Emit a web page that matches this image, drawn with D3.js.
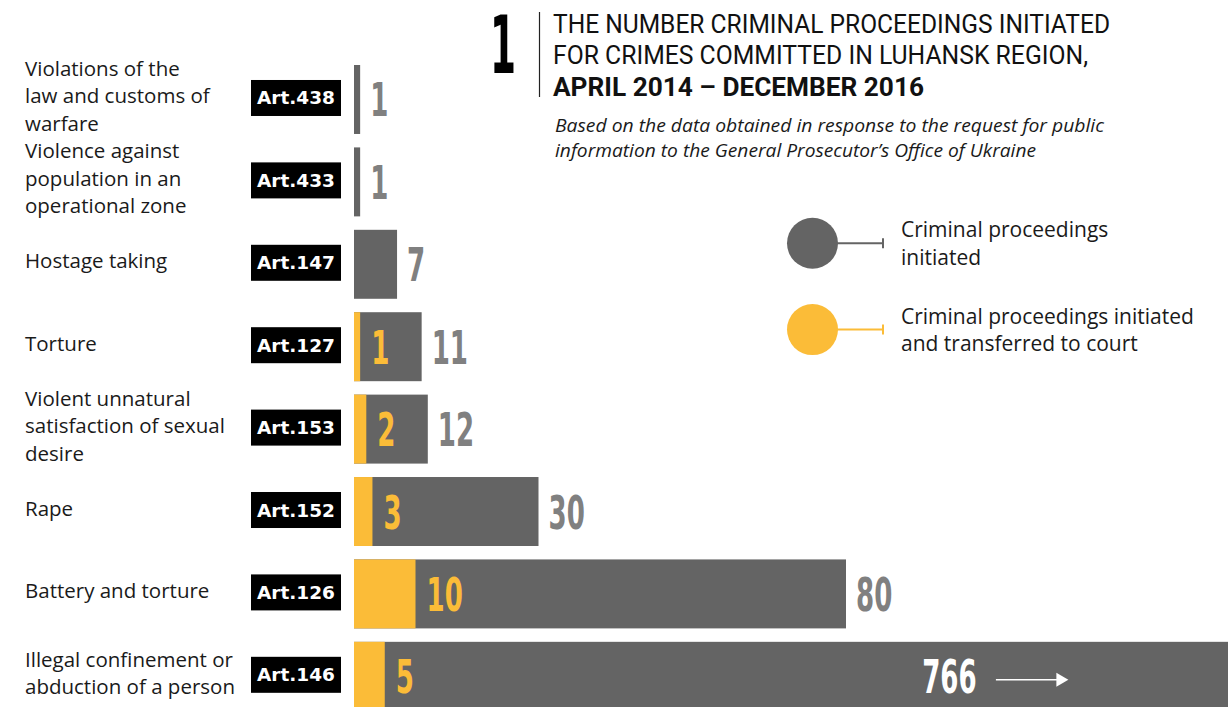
<!DOCTYPE html>
<html>
<head>
<meta charset="utf-8">
<script src="https://cdn.jsdelivr.net/npm/d3@7"></script>
<style>
  html, body { margin: 0; padding: 0; background: #ffffff; }
  svg { display: block; }
</style>
</head>
<body>
<svg id="chart" width="1228" height="707"></svg>
<script>
// ---------- DATA ----------
const articles = ["Art.438", "Art.433", "Art.147", "Art.127", "Art.153", "Art.152", "Art.126", "Art.146"];
const categoryLines = [
  ["Violations of the", "law and customs of", "warfare"],
  ["Violence against", "population in an", "operational zone"],
  ["Hostage taking"],
  ["Torture"],
  ["Violent unnatural", "satisfaction of sexual", "desire"],
  ["Rape"],
  ["Battery and torture"],
  ["Illegal confinement or", "abduction of a person"]
];
const initiated = [1, 1, 7, 11, 12, 30, 80, 766];
const transferred = [null, null, null, 1, 2, 3, 10, 5];
const titleLines = ["THE NUMBER CRIMINAL PROCEEDINGS INITIATED", "FOR CRIMES COMMITTED IN LUHANSK REGION,", "APRIL 2014 – DECEMBER 2016"];
const subtitleLines = ["Based on the data obtained in response to the request for public", "information to the General Prosecutor’s Office of Ukraine"];
const legendItems = [
  { key: "initiated", lines: ["Criminal proceedings", "initiated"] },
  { key: "transferred", lines: ["Criminal proceedings initiated", "and transferred to court"] }
];
const chartNumber = "1";

// ---------- STYLE ----------
const GRAY = "#646464";
const YELLOW = "#FBBC38";
const LABEL_GRAY = "#808080";
const TEXT = "#1a1a1a";
const NUM_FONT = "'DejaVu Sans Condensed', 'Liberation Sans Narrow', sans-serif";
const NUM_SX = 0.63;
const colorOf = { initiated: GRAY, transferred: YELLOW };

const svg = d3.select("#chart");
const W = 1228;

// ---------- SCALES ----------
const y = d3.scaleBand()
  .domain(articles)
  .range([65, 710.8])
  .paddingInner(0.163)
  .paddingOuter(0);

const x = d3.scaleLinear()
  .domain([0, 150])
  .range([354, 354 + 150 * 6.15])
  .clamp(true);

const rows = articles.map((a, i) => ({
  art: a, lines: categoryLines[i], total: initiated[i], part: transferred[i], i
}));

// ---------- BARS ----------
const g = svg.append("g");

g.selectAll("rect.total").data(rows).join("rect")
  .attr("class", "total")
  .attr("x", x(0))
  .attr("y", d => y(d.art))
  .attr("width", d => x(d.total) - x(0))
  .attr("height", y.bandwidth())
  .attr("fill", GRAY);

g.selectAll("rect.part").data(rows.filter(d => d.part != null)).join("rect")
  .attr("class", "part")
  .attr("x", x(0))
  .attr("y", d => y(d.art))
  .attr("width", d => x(d.part) - x(0))
  .attr("height", y.bandwidth())
  .attr("fill", YELLOW);

const cy = d => y(d.art) + y.bandwidth() / 2;

function numText(sel, fill) {
  sel.attr("font-family", NUM_FONT)
    .attr("font-weight", "bold")
    .attr("font-size", 46)
    .attr("fill", fill);
}

const truncated = d => x(d.total) >= x.range()[1];
g.selectAll("text.total").data(rows.filter(d => !truncated(d))).join("text")
  .attr("class", "total")
  .attr("transform", d => `translate(${x(d.total) + 10},${cy(d) + 17}) scale(${NUM_SX},1)`)
  .call(numText, LABEL_GRAY)
  .text(d => d.total);

const truncRows = rows.filter(truncated);
const tg = g.selectAll("g.trunc").data(truncRows).join("g").attr("class", "trunc");
tg.append("text")
  .attr("transform", d => `translate(${W * 0.751},${cy(d) + 17}) scale(${NUM_SX},1)`)
  .call(numText, "#ffffff")
  .text(d => d.total);
tg.append("line")
  .attr("x1", W * 0.811).attr("x2", W * 0.862)
  .attr("y1", d => cy(d) + 3.5).attr("y2", d => cy(d) + 3.5)
  .attr("stroke", "#ffffff").attr("stroke-width", 1.6);
tg.append("path")
  .attr("d", d => {
    const tx = W * 0.87, ty = cy(d) + 3.5;
    return `M${tx},${ty} L${tx - 12},${ty - 7} L${tx - 12},${ty + 7} Z`;
  })
  .attr("fill", "#ffffff");

g.selectAll("text.part").data(rows.filter(d => d.part != null)).join("text")
  .attr("class", "part")
  .attr("transform", d => `translate(${x(d.part) + 11},${cy(d) + 17}) scale(${NUM_SX},1)`)
  .call(numText, YELLOW)
  .text(d => d.part);

// ---------- ARTICLE BOXES ----------
const boxW = 90, boxH = 36, boxX = 251;
const ag = svg.append("g");
ag.selectAll("rect").data(rows).join("rect")
  .attr("x", boxX)
  .attr("y", d => cy(d) - boxH / 2 - 1.5)
  .attr("width", boxW)
  .attr("height", boxH)
  .attr("fill", "#000000");
ag.selectAll("text").data(rows).join("text")
  .attr("x", boxX + boxW / 2)
  .attr("y", d => cy(d) + 5)
  .attr("text-anchor", "middle")
  .attr("font-family", "'DejaVu Sans', sans-serif")
  .attr("font-weight", "bold")
  .attr("font-size", 18.5)
  .attr("fill", "#ffffff")
  .text(d => d.art);

// ---------- CATEGORY LABELS ----------
const lh = 27.5;
const cg = svg.append("g");
cg.selectAll("text").data(rows).join("text")
  .attr("font-family", "'Open Sans', sans-serif")
  .attr("font-size", 20.5)
  .attr("fill", TEXT)
  .each(function (d) {
    const n = d.lines.length;
    d3.select(this).selectAll("tspan").data(d.lines).join("tspan")
      .attr("x", 25)
      .attr("y", (l, k) => cy(d) + (k - (n - 1) / 2) * lh + 4)
      .text(l => l);
  });

// ---------- TITLE ----------
const hg = svg.append("g");
hg.append("text")
  .attr("transform", "translate(503,73) scale(0.52,1)")
  .attr("text-anchor", "middle")
  .attr("font-family", NUM_FONT)
  .attr("font-weight", "bold")
  .attr("font-size", 80)
  .attr("fill", "#000000")
  .text(chartNumber);
hg.append("line")
  .attr("x1", 539.5).attr("x2", 539.5)
  .attr("y1", 12).attr("y2", 97)
  .attr("stroke", "#222").attr("stroke-width", 1.2);

const titleWidths = [557, 535, 371];
const titleBase = [32.7, 64.3, 95.7];
hg.selectAll("text.title").data(titleLines).join("text")
  .attr("class", "title")
  .attr("x", 553)
  .attr("y", (t, i) => titleBase[i])
  .attr("font-family", "Roboto, sans-serif")
  .attr("font-size", 25.5)
  .attr("font-weight", (t, i) => i === 2 ? "bold" : "normal")
  .attr("fill", "#111")
  .attr("textLength", (t, i) => titleWidths[i])
  .attr("lengthAdjust", "spacingAndGlyphs")
  .text(t => t);

const subWidths = [549, 481];
hg.selectAll("text.sub").data(subtitleLines).join("text")
  .attr("class", "sub")
  .attr("x", 555)
  .attr("y", (t, i) => 131.7 + i * 25)
  .attr("font-family", "'Open Sans', sans-serif")
  .attr("font-style", "italic")
  .attr("font-size", 17.5)
  .attr("fill", TEXT)
  .attr("textLength", (t, i) => subWidths[i])
  .attr("lengthAdjust", "spacingAndGlyphs")
  .text(t => t);

// ---------- LEGEND ----------
const legY = d3.scalePoint().domain(legendItems.map(d => d.key)).range([243.3, 329.6]);
const lg = svg.append("g");
const li = lg.selectAll("g").data(legendItems).join("g")
  .attr("transform", d => `translate(0,${legY(d.key)})`);
li.append("line")
  .attr("x1", 812).attr("x2", 883)
  .attr("y1", 0).attr("y2", 0)
  .attr("stroke", d => colorOf[d.key]).attr("stroke-width", 2);
li.append("line")
  .attr("x1", 883).attr("x2", 883)
  .attr("y1", -5).attr("y2", 5)
  .attr("stroke", d => colorOf[d.key]).attr("stroke-width", 2);
li.append("circle")
  .attr("cx", 812.5).attr("cy", 0).attr("r", 25.5)
  .attr("fill", d => colorOf[d.key]);
li.append("text")
  .attr("font-family", "'Open Sans', sans-serif")
  .attr("font-size", 21)
  .attr("fill", TEXT)
  .selectAll("tspan").data(d => d.lines).join("tspan")
  .attr("x", 901)
  .attr("y", (l, k) => -6 + k * 27.7)
  .text(l => l);
</script>
</body>
</html>
